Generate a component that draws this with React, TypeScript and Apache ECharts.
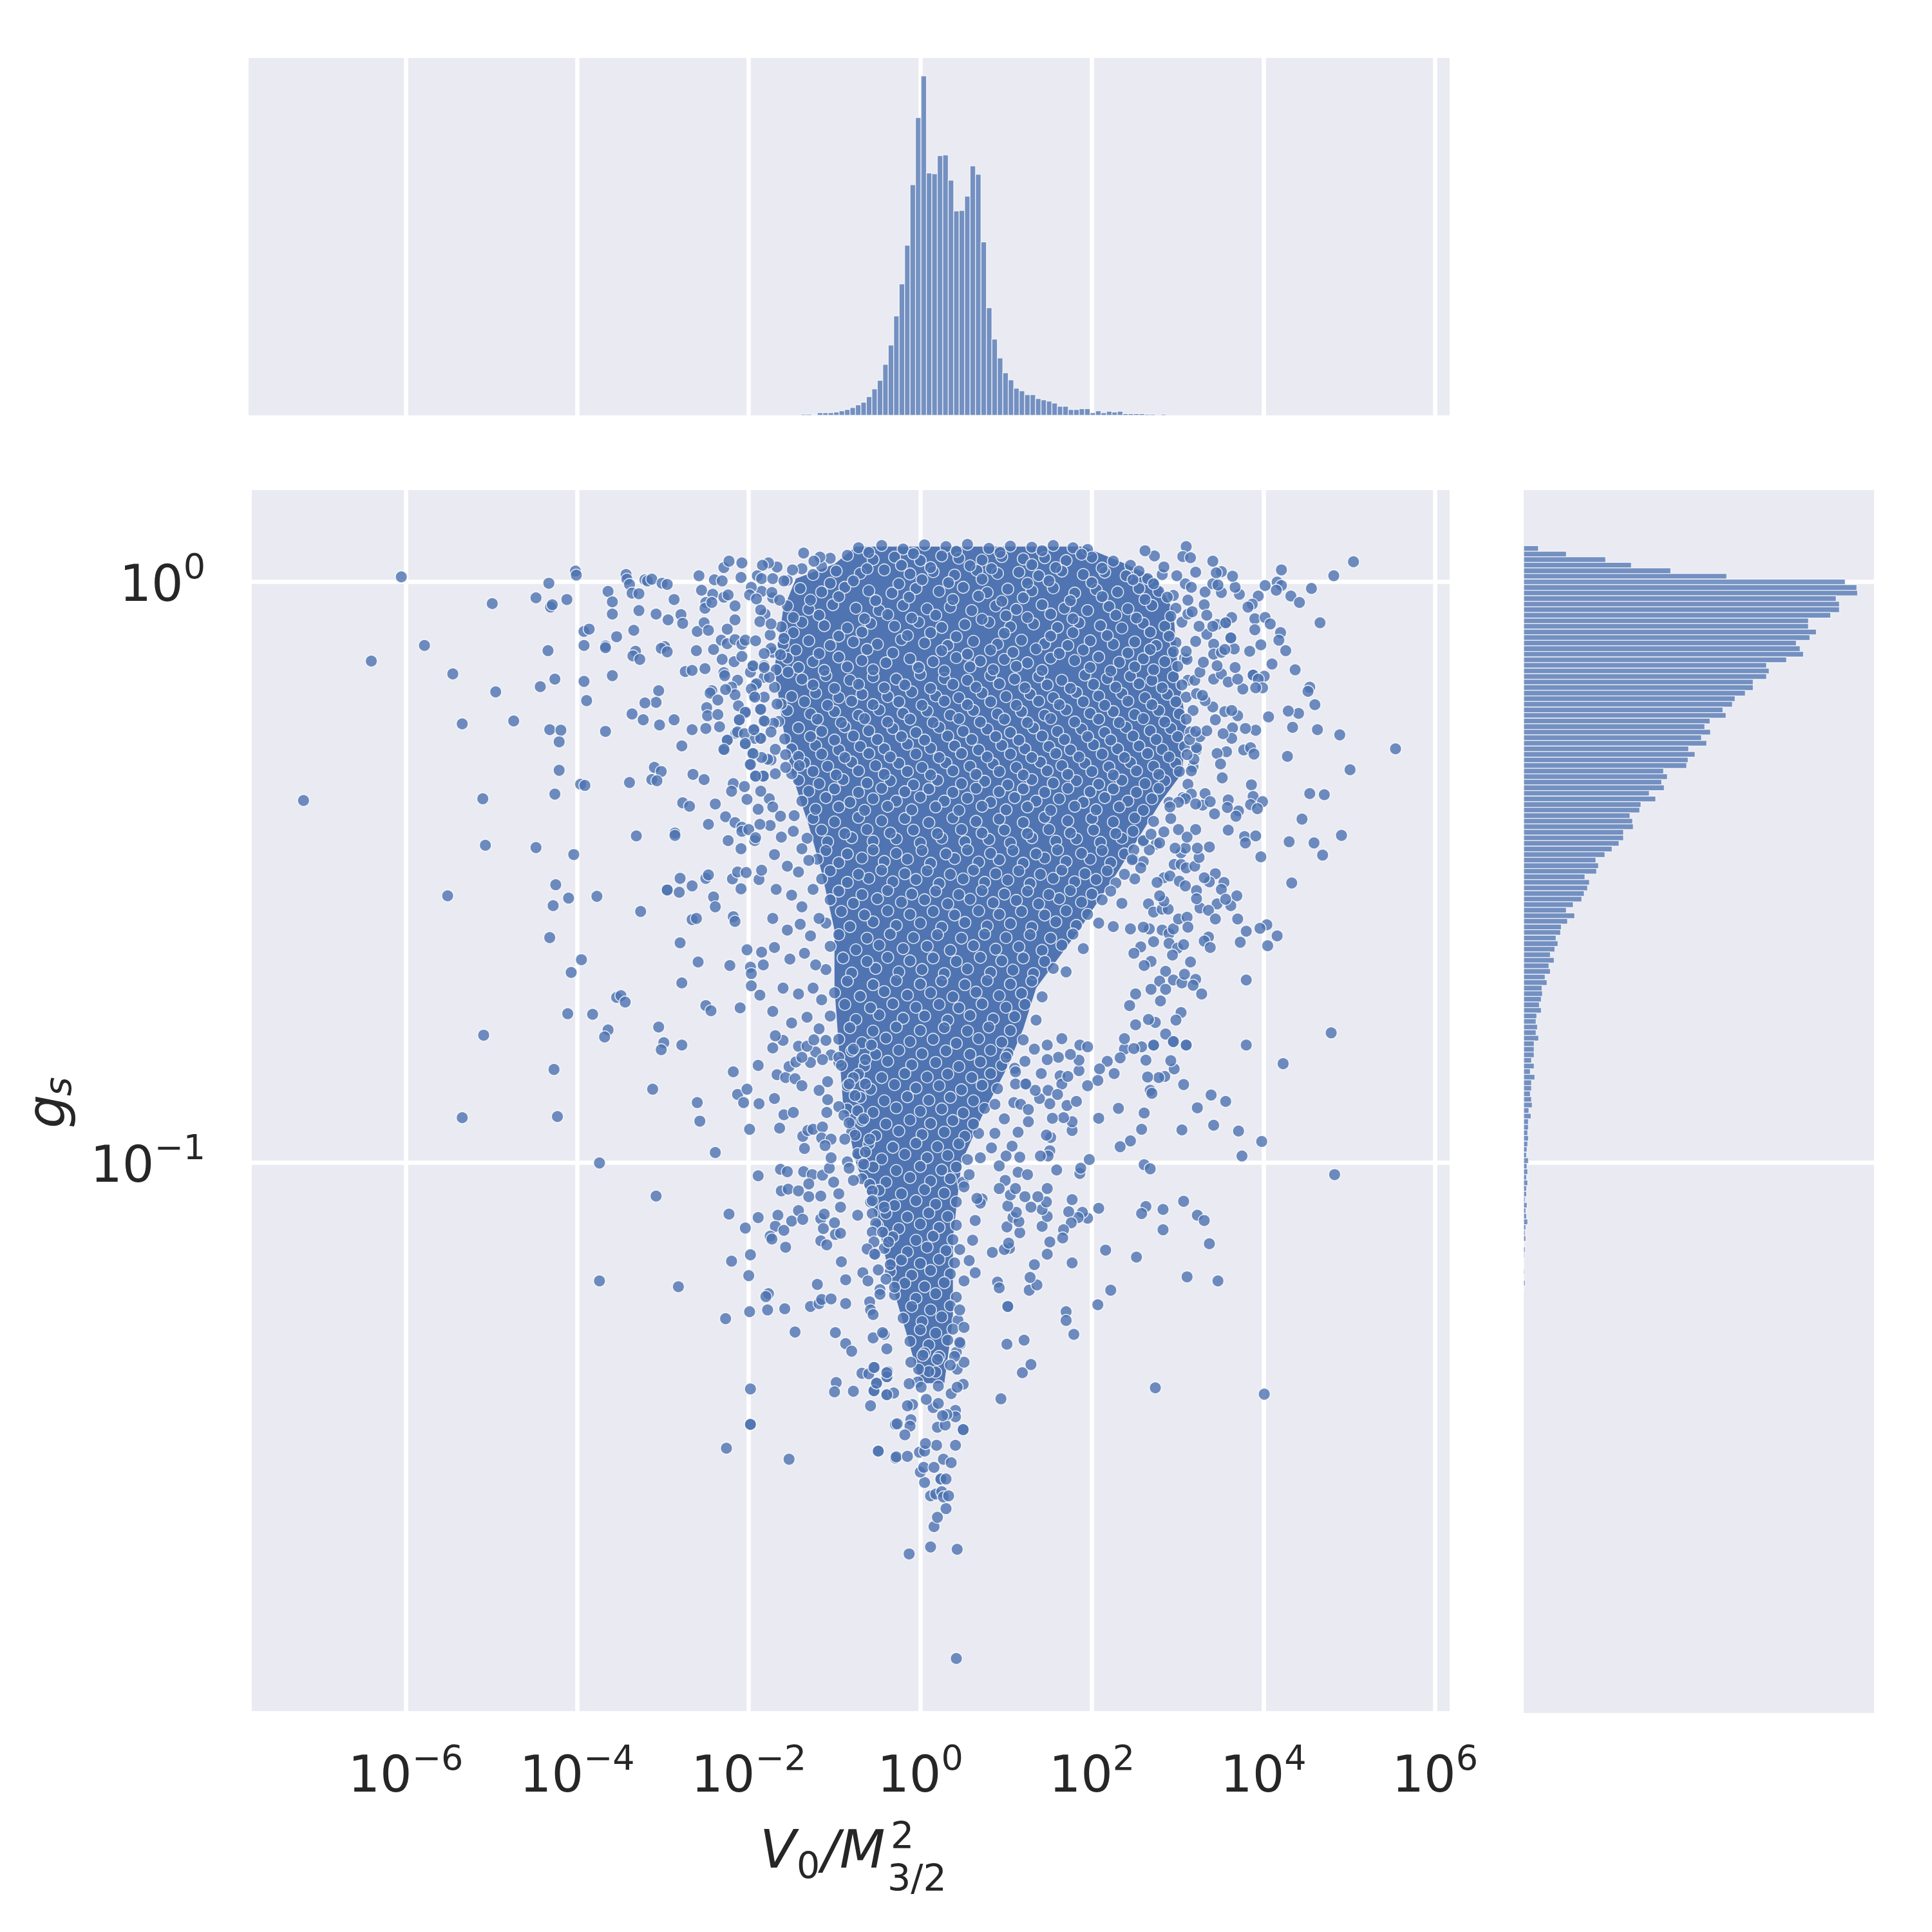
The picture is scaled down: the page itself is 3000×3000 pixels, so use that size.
import React, { useEffect, useRef } from "react";
import * as echarts from "echarts";

const FONT = "DejaVu Sans";
const INK = "#262626";
const BLUE = "#4c72b0";
const PANEL = "#eaeaf2";

const xTicks = [-6, -4, -2, 0, 2, 4, 6];
const yTicks = [0, -1];

// Top histogram: counts per bin of log10(V0/M^2)
const topBinStart = -1.391;
const topBinWidth = 0.0636;
const topCounts = [5,5,2,11,11,11,14,19,25,33,44,55,79,111,147,214,295,417,552,714,968,1250,1425,1017,1014,1090,1093,987,858,860,920,1047,1012,728,452,320,241,179,149,114,103,87,87,71,65,60,52,38,38,25,25,28,28,11,19,11,17,14,17,7,7,7,7,5,5,2,5,2];

// Right histogram: counts per bin of log10(g_s), top bin first
const rightBinTop = 0.0616;
const rightBinHeight = 0.00958;
const rightCounts = [62,179,344,452,617,852,1349,1398,1401,1311,1325,1325,1288,1195,1195,1228,1201,1144,1160,1174,1103,1019,1030,1019,963,963,930,887,876,836,849,782,760,784,746,768,692,719,690,684,587,603,579,590,527,554,492,487,446,457,460,419,419,400,371,341,303,314,306,257,276,268,254,244,208,179,214,184,158,155,136,144,131,112,128,106,112,90,98,77,79,74,66,74,55,52,58,52,63,44,44,44,33,44,28,47,33,33,28,33,36,22,31,20,20,17,20,17,14,12,20,14,17,12,17,12,12,6,14,9,12,17,9,6,9,1,6,4,0,0,4,1,6,1];

// Outline of the saturated core of the cloud: log10(g_s), left and right log10(V0/M^2)
const coreLeftG = [0.06,0.03,0.005,-0.05,-0.15,-0.25,-0.33,-0.42,-0.5,-0.6,-0.7,-0.8,-0.9,-1.0,-1.1,-1.2,-1.3,-1.38];
const coreLeftV = [-0.75,-1.0,-1.45,-1.6,-1.7,-1.6,-1.5,-1.3,-1.15,-1.0,-1.0,-0.95,-0.9,-0.75,-0.5,-0.35,-0.15,0.0];
const coreRightG = [0.06,0.03,0.005,-0.05,-0.15,-0.25,-0.33,-0.38,-0.44,-0.5,-0.6,-0.7,-0.77,-0.84,-0.92,-1.0,-1.13,-1.27,-1.38];
const coreRightV = [1.9,2.4,2.75,2.95,3.0,3.1,3.05,2.8,2.55,2.3,1.85,1.35,1.2,1.0,0.72,0.48,0.38,0.38,0.28];

// Separately readable points, flat [log10 V, log10 g] pairs
const wingsLeftUpper = [-6.05,0.008,-4.99,-0.038,-4.33,-0.003,-4.48,-0.028,-4.12,-0.031,-4.31,-0.044,-4.29,-0.04,-4.02,0.018,-4.01,0.011,-5.78,-0.11,-6.4,-0.137,-5.45,-0.159,-4.95,-0.19,-5.34,-0.245,-4.74,-0.24,-4.34,-0.119,-4.26,-0.168,-4.43,-0.181,-3.92,-0.11,-3.92,-0.172,-3.89,-0.205,-3.92,-0.086,-3.86,-0.082,-3.67,-0.111,-3.67,-0.114,-3.54,-0.095,-3.59,-0.162,-3.64,-0.017,-3.59,-0.035,-3.59,-0.056,-3.43,0.012,-3.42,0.004,-3.39,-0.005,-3.36,-0.02,-3.28,-0.021,-3.28,-0.05,-3.34,-0.084,-3.32,-0.12,-3.35,-0.128,-3.27,-0.134,-3.21,0.003,-3.18,0.001,-3.13,0.004,-3.01,-0.003,-2.95,-0.005,-3.08,-0.056,-2.94,-0.066,-2.87,-0.031,-2.79,-0.057,-2.77,-0.072,-2.98,-0.112,-3.02,-0.115,-2.95,-0.121,-2.61,-0.119,-2.6,-0.086,-2.52,-0.071,-2.47,-0.084,-2.58,0.01,-2.55,-0.015,-2.4,0.003,-2.31,0.001,-2.42,-0.022,-2.29,0.024,-2.23,0.035,-2.08,0.032,-2.09,0.007,-2.5,-0.036,-2.51,-0.046,-2.43,-0.036,-2.29,-0.027,-2.24,-0.023,-2.16,-0.042,-2.16,-0.066,-2.25,-0.082,-2.32,-0.101,-2.25,-0.107,-2.16,-0.1,-2.08,-0.108,-2.04,-0.101,-1.92,-0.102,-2.41,-0.117,-2.31,-0.134,-2.17,-0.138,-2.08,-0.129,-2.74,-0.155,-2.66,-0.153,-2.51,-0.15,-2.29,-0.157,-2.28,-0.162,-2.13,-0.17,-2.2,-0.182,-2.43,-0.188,-2.45,-0.192,-2.36,-0.204,-2.16,-0.195,-2.27,-0.186,-3.05,-0.188,-3.08,-0.208,-3.21,-0.209,-3.36,-0.228,-3.23,-0.238,-3.04,-0.247,-2.87,-0.238,-2.66,-0.255,-2.5,-0.253,-2.34,-0.25,-2.49,-0.217,-2.48,-0.231,-2.36,-0.229,-2.12,-0.214,-2.04,-0.225,-2.11,-0.238,-2.13,-0.259,-2.05,-0.262,-1.94,-0.255,-2.25,-0.273,-2.29,-0.289,-2.04,-0.279,-1.95,-0.296,-1.98,-0.315,-1.92,-0.335,-4.32,-0.255,-4.19,-0.256,-4.21,-0.276,-4.21,-0.325,-4.26,-0.366,-3.67,-0.258,-2.78,-0.283,-3.1,-0.32,-3.02,-0.327,-3.13,-0.341,-3.07,-0.343,-3.96,-0.349,-3.91,-0.351,-3.39,-0.346,-2.65,-0.332,-2.52,-0.341,-7.19,-0.377,-5.1,-0.374,-5.07,-0.454,-4.48,-0.458,-4.04,-0.47,-3.31,-0.438,-2.86,-0.433,-2.86,-0.437,-2.77,-0.381,-2.69,-0.387,-2.39,-0.383,-2.47,-0.418,-2.27,-0.405,-2.16,-0.415,-2.08,-0.423,-2.08,-0.43,-2.0,-0.427,-1.87,-0.418,-1.89,-0.392,-2.18,-0.348,-2.2,-0.361,-2.05,-0.353,-2.02,-0.375,-1.86,-0.361,-2.24,-0.446,-2.09,-0.46,-1.93,-0.446,-1.92,-0.441,-2.8,-0.511,-2.66,-0.524,-2.5,-0.511,-2.47,-0.505,-2.19,-0.512,-2.13,-0.5,-2.03,-0.501,-2.09,-0.529,-1.88,-0.513,-1.85,-0.497,-4.25,-0.522,-4.1,-0.545,-3.77,-0.542,-4.28,-0.558,-5.51,-0.541,-3.26,-0.568,-2.95,-0.531,-2.95,-0.531,-2.81,-0.535,-2.41,-0.543,-2.39,-0.56,-2.66,-0.582,-2.61,-0.58,-2.18,-0.577,-2.16,-0.585,-4.32,-0.613,-2.8,-0.622,-3.95,-0.651,-4.07,-0.673,-2.78,-0.691,-2.59,-0.655,-2.22,-0.661,-2.02,-0.634,-1.85,-0.638,-1.98,-0.664,-1.97,-0.675,-1.83,-0.66,-1.97,-0.696,-1.87,-0.712,-3.54,-0.716,-3.49,-0.713,-3.44,-0.724,-4.11,-0.744,-3.82,-0.745,-3.64,-0.772,-3.68,-0.784,-5.09,-0.781,-2.5,-0.73,-2.44,-0.739,-2.1,-0.734,-3.05,-0.767,-2.99,-0.794,-3.02,-0.806,-2.78,-0.798];

const wingsLeftLower = [-4.27,-0.84,-3.12,-0.874,-5.34,-0.923,-4.23,-0.921,-2.6,-0.897,-2.57,-0.929,-2.18,-0.844,-2.13,-0.883,-2.02,-0.874,-2.06,-0.897,-1.88,-0.899,-1.89,-0.833,-1.99,-0.943,-2.39,-0.983,-1.67,-0.849,-1.57,-0.854,-1.53,-0.835,-1.46,-0.856,-1.38,-0.868,-1.45,-0.827,-1.28,-0.828,-1.7,-0.89,-1.59,-0.918,-1.48,-0.914,-1.64,-0.941,-1.72,-0.803,-1.69,-0.782,-1.38,-0.819,-1.32,-0.8,-1.24,-0.789,-1.18,-0.876,-1.08,-0.861,-1.08,-0.892,-1.09,-0.914,-1.37,-0.955,-1.31,-0.945,-1.25,-0.943,-1.14,-0.939,-1.15,-0.958,-1.04,-0.96,-0.88,-0.96,-1.11,-0.971,-1.35,-0.976,-3.74,-1.001,-3.08,-1.058,-1.89,-1.023,-1.63,-1.012,-1.55,-1.016,-1.36,-1.016,-1.26,-1.021,-1.14,-1.022,-1.06,-1.01,-1.04,-0.992,-1.62,-1.049,-1.54,-1.046,-1.42,-1.049,-1.3,-1.037,-1.3,-1.059,-1.16,-1.058,-1.01,-1.034,-0.95,-1.054,-0.93,-1.077,-2.23,-1.089,-1.89,-1.095,-2.04,-1.113,-1.66,-1.091,-1.42,-1.083,-1.5,-1.101,-1.37,-1.098,-1.16,-1.097,-1.12,-1.089,-1.0,-1.104,-0.73,-1.091,-1.13,-1.114,-1.69,-1.11,-1.59,-1.117,-1.75,-1.127,-1.73,-1.132,-1.57,-1.146,-1.16,-1.135,-1.09,-1.142,-0.99,-1.124,-0.93,-1.122,-1.98,-1.159,-2.2,-1.17,-2.0,-1.195,-0.92,-1.171,-0.62,-1.149,-0.53,-1.158,-0.67,-1.19,-0.49,-1.185,-0.87,-1.202,-0.61,-1.204,-1.2,-1.21,-3.74,-1.204,-2.82,-1.214,-1.77,-1.226,-1.8,-1.231,-2.27,-1.269,-1.99,-1.257,-1.78,-1.254,-1.58,-1.252,-1.28,-1.248,-1.18,-1.243,-1.15,-1.236,-1.04,-1.235,-0.87,-1.243,-0.59,-1.24,-0.58,-1.254,-0.55,-1.262,-0.47,-1.227,-0.4,-1.201,-1.46,-1.292,-0.99,-1.293,-0.87,-1.312,-0.8,-1.325,-0.55,-1.302,-0.42,-1.296,-0.44,-1.293,-0.39,-1.321,-1.98,-1.39,-0.98,-1.379,-1.0,-1.395,-0.78,-1.394,-0.68,-1.363,-0.6,-1.364,-0.53,-1.353,-0.51,-1.381,-0.54,-1.393,-0.58,-1.419,-0.39,-1.399,-0.38,-1.36,-0.38,-1.369,-1.98,-1.451,-1.98,-1.451,-2.26,-1.492,-1.53,-1.511,-0.49,-1.497,-0.49,-1.497,-0.29,-1.451,-0.29,-1.509];

const tailBottom = [0.42,-1.854,-0.13,-1.674,0.12,-1.662,0.43,-1.666,0.16,-1.627,0.2,-1.611,0.3,-1.596,0.12,-1.574,0.18,-1.571,0.25,-1.567,0.27,-1.576,0.33,-1.574,0.05,-1.551,0.24,-1.545,0.24,-1.545,0.3,-1.545,0.0,-1.533,0.04,-1.525,0.16,-1.525,0.27,-1.511,0.36,-1.517,-0.01,-1.499,0.05,-1.497,0.19,-1.487,0.06,-1.484,0.41,-1.487,-0.28,-1.507,-0.15,-1.506,0.5,-1.46,0.5,-1.46,0.2,-1.456,0.29,-1.452,0.41,-1.427,0.41,-1.438,0.31,-1.434,0.26,-1.436,0.15,-1.422,0.21,-1.415,0.07,-1.408,-0.27,-1.45,-0.11,-1.443,-0.12,-1.454,-0.18,-1.469,-0.09,-1.417,-0.15,-1.419,0.36,-1.398,0.5,-1.382,0.43,-1.387,0.21,-1.385,-0.03,-1.378,0.01,-1.387,0.43,-1.356,0.51,-1.344,0.4,-1.334,0.35,-1.349,0.2,-1.339,0.18,-1.361,0.1,-1.36,-0.02,-1.356,-0.11,-1.344,0.03,-1.332,-0.31,-1.397,-0.39,-1.4,-0.54,-1.393,-0.51,-1.38,-0.39,-1.369,-0.39,-1.362,-0.54,-1.353,-0.13,-1.381];

const wingsRightLower = [0.94,-1.407,2.74,-1.388,4.01,-1.399,1.01,-1.313,1.21,-1.306,1.19,-1.362,1.29,-1.348,1.02,-1.248,1.02,-1.248,0.9,-1.206,0.92,-1.216,1.7,-1.257,1.7,-1.272,1.79,-1.296,2.07,-1.245,2.22,-1.22,1.27,-1.22,1.36,-1.211,1.28,-1.198,1.33,-1.176,1.77,-1.173,1.48,-1.158,0.84,-1.155,1.51,-1.137,1.04,-1.148,0.98,-1.15,1.03,-1.139,2.52,-1.163,2.16,-1.151,3.11,-1.197,3.47,-1.204,3.37,-1.14,2.83,-1.116,2.83,-1.081,3.07,-1.067,2.63,-1.076,2.58,-1.088,3.23,-1.091,3.31,-1.1,2.08,-1.079,1.95,-1.096,1.89,-1.086,1.84,-1.095,1.73,-1.085,1.77,-1.064,1.76,-1.104,1.67,-1.116,1.66,-1.13,1.42,-1.11,0.64,-1.1,1.01,-1.111,1.08,-1.095,1.16,-1.121,1.15,-1.102,1.12,-1.086,1.02,-1.075,1.48,-1.093,1.42,-1.081,1.29,-1.077,1.47,-1.068,1.37,-1.059,1.22,-1.059,1.05,-1.056,1.48,-1.045,0.7,-1.07,0.66,-1.062,1.11,-1.045,0.99,-1.031,0.92,-1.045,1.14,-1.017,1.25,-1.021,1.59,-1.013,1.86,-1.019,1.87,-1.01,1.97,-0.995,2.61,-1.004,2.68,-1.011,4.83,-1.021,3.75,-0.989,3.98,-0.964,3.71,-0.946,3.42,-0.936,3.05,-0.944,3.56,-0.895,3.39,-0.884,3.23,-0.906,2.58,-0.943,2.45,-0.963,2.33,-0.973,2.61,-0.915,2.31,-0.907,2.08,-0.924,3.07,-0.866,4.23,-0.83,3.8,-0.798,4.79,-0.777,2.68,-0.876,2.7,-0.881,2.85,-0.852,2.78,-0.854,2.65,-0.853,2.96,-0.839,2.92,-0.825,3.1,-0.798,2.95,-0.792,2.72,-0.799,2.63,-0.824,2.38,-0.805,2.38,-0.787,2.58,-0.801,2.49,-0.804,2.26,-0.847,2.18,-0.826,2.33,-0.82,2.09,-0.839,2.07,-0.859,1.95,-0.868,1.85,-0.842,1.85,-0.824,1.75,-0.814,1.72,-0.852,1.51,-0.899,1.71,-0.902,1.82,-0.895,1.77,-0.945,1.77,-0.93,1.67,-0.923,1.54,-0.924,1.26,-0.909,1.39,-0.89,1.49,-0.876,1.6,-0.883,1.34,-0.876,1.23,-0.865,1.52,-0.957,1.47,-0.953,1.51,-0.98,1.49,-0.989,1.4,-0.989,1.16,-0.991,1.14,-0.948,1.26,-0.93,1.07,-0.972,1.0,-0.989];

const wingsRightUpper = [5.05,0.034,4.82,0.01,4.21,0.02,4.56,-0.012,4.66,-0.071,4.32,-0.025,4.42,-0.036,4.16,-0.001,4.21,-0.007,4.15,-0.015,4.02,-0.007,3.94,-0.025,3.87,-0.039,3.82,-0.044,3.72,-0.022,3.67,-0.01,3.64,0.009,3.51,0.017,3.45,0.015,3.41,0.035,3.1,0.06,3.06,0.043,3.15,0.041,2.73,0.044,2.62,0.053,3.51,-0.019,3.47,-0.006,3.9,-0.064,4.02,-0.062,4.08,-0.073,3.9,-0.083,3.63,-0.062,3.56,-0.071,4.2,-0.088,4.18,-0.101,4.26,-0.119,3.97,-0.109,3.84,-0.12,3.66,-0.116,3.62,-0.097,3.55,-0.117,4.1,-0.142,4.37,-0.152,4.01,-0.163,3.88,-0.161,3.88,-0.161,3.94,-0.168,3.99,-0.183,3.91,-0.183,3.76,-0.185,3.7,-0.168,3.67,-0.148,4.54,-0.182,4.52,-0.189,4.6,-0.212,4.41,-0.227,4.29,-0.223,4.06,-0.233,4.34,-0.251,4.63,-0.255,4.89,-0.264,5.54,-0.288,5.01,-0.324,4.28,-0.301,4.54,-0.365,4.71,-0.367,4.45,-0.409,4.91,-0.437,4.59,-0.45,4.3,-0.448,4.69,-0.471,4.33,-0.519,3.91,-0.256,3.79,-0.253,3.7,-0.231,3.63,-0.222,3.64,-0.252,3.63,-0.27,3.53,-0.262,3.77,-0.29,3.85,-0.286,3.89,-0.297,3.57,-0.293,3.46,-0.296,3.5,-0.314,3.52,-0.338,3.86,-0.35,3.88,-0.37,3.99,-0.379,3.85,-0.384,3.93,-0.391,3.71,-0.395,3.68,-0.404,3.59,-0.376,3.58,-0.389,3.43,-0.4,3.32,-0.365,3.21,-0.383,3.38,-0.379,3.59,-0.428,3.78,-0.439,3.79,-0.45,3.91,-0.438,3.97,-0.474,3.37,-0.457,3.25,-0.475,3.21,-0.427,3.11,-0.44,3.23,-0.459,3.54,-0.518,3.44,-0.503,3.37,-0.517,3.31,-0.51,3.51,-0.53,3.69,-0.541,3.62,-0.558,3.46,-0.555,3.56,-0.547,3.26,-0.562,3.36,-0.566,3.44,-0.581,3.7,-0.581,3.22,-0.532,3.22,-0.546,4.04,-0.591,3.96,-0.597,4.16,-0.61,4.05,-0.627,3.8,-0.602,3.73,-0.621,3.36,-0.612,3.31,-0.619,3.38,-0.63,3.8,-0.686,3.15,-0.655,3.28,-0.71,3.21,-0.685,3.05,-0.691,3.08,-0.676,3.18,-0.695,3.1,-0.798,3.04,-0.742,2.98,-0.755,2.74,-0.759,2.66,-0.754,2.86,-0.779,2.95,-0.792,2.72,-0.798];

const coreEdgeLeft = [-1.36,0.049,-1.17,0.042,-1.24,0.035,-1.38,0.022,-1.49,0.02,-1.67,0.025,-1.77,0.032,-1.84,0.028,-1.9,0.01,-1.85,0.005,-1.72,0.005,-1.59,0.001,-1.85,-0.017,-1.97,-0.01,-1.73,-0.019,-1.99,-0.023,-1.91,-0.03,-1.64,-0.032,-1.81,-0.056,-1.86,-0.049,-1.87,-0.069,-1.74,-0.073,-1.59,-0.098,-1.74,-0.115,-1.82,-0.124,-1.96,-0.147,-1.98,-0.156,-1.82,-0.145,-1.63,-0.126,-1.54,-0.156,-1.92,-0.178,-1.94,-0.196,-1.82,-0.165,-1.76,-0.165,-1.67,-0.211,-1.87,-0.22,-2.04,-0.226,-2.11,-0.239,-1.81,-0.241,-1.71,-0.244,-1.94,-0.256,-1.74,-0.259,-2.15,-0.261,-1.87,-0.27,-2.04,-0.28,-2.25,-0.274,-2.28,-0.29,-1.96,-0.296,-1.99,-0.315,-1.74,-0.307,-1.69,-0.289,-1.57,-0.298,-1.57,-0.32,-1.69,-0.331,-1.83,-0.335,-1.92,-0.335,-1.41,-0.317,-1.76,-0.374,-1.72,-0.388,-1.63,-0.404,-1.47,-0.403,
-1.95,-0.145,-1.82,-0.148,-1.91,-0.176,-1.97,-0.185,-1.82,-0.199,-1.93,-0.199,-1.86,-0.22,-1.82,-0.24,-1.93,-0.27,-1.86,-0.27,-1.78,-0.306,-1.83,-0.335,-1.85,-0.303,
-1.75,-0.42,-1.62,-0.44,-1.48,-0.43,-1.38,-0.46,-1.7,-0.47,-1.55,-0.49,-1.42,-0.5,-1.3,-0.48,-1.68,-0.53,-1.5,-0.54,-1.38,-0.56,-1.25,-0.53,-1.72,-0.58,-1.55,-0.6,-1.4,-0.59,-1.28,-0.61,-1.18,-0.58,-1.7,-0.63,-1.52,-0.65,-1.35,-0.64,-1.22,-0.66,-1.6,-0.7,-1.42,-0.71,-1.25,-0.7,-1.15,-0.72,-1.72,-0.74,-1.5,-0.76,-1.32,-0.75,-1.18,-0.77,-1.6,-0.79,-1.42,-0.8,-1.22,-0.81,-1.1,-0.79,
-1.04,-0.815,-1.14,-0.823,-0.95,-0.819,-0.78,-0.805,-0.64,-0.823,-0.57,-0.798,-0.92,-0.833,-0.78,-0.854,-0.64,-0.865,-0.83,-0.865,-0.76,-0.885,-0.95,-0.904,-0.89,-0.919,-0.73,-0.911,-0.83,-0.932,-0.66,-0.925,-0.76,-0.953,-0.59,-0.96,-0.85,-0.999,-0.73,-0.985,-0.64,-0.982,-0.83,-1.01,-0.66,-1.003,-0.78,-1.031,-0.59,-1.038,-0.56,-1.049,-0.56,-1.066,-0.56,-1.088,-0.42,-1.077,-0.52,-1.105,-0.56,-1.12,-0.44,-1.12,-0.54,-1.137,-0.37,-1.137,-0.54,-1.158,-0.35,-1.176,-0.47,-1.219,-0.3,-1.215];

const coreEdgeRight = [2.66,-0.555,2.72,-0.569,2.82,-0.564,2.89,-0.564,2.84,-0.55,2.79,-0.541,2.84,-0.51,2.91,-0.507,3.02,-0.516,3.09,-0.524,2.76,-0.518,2.67,-0.598,2.82,-0.6,2.9,-0.606,2.95,-0.598,3.01,-0.581,3.11,-0.578,3.12,-0.595,2.6,-0.595,2.45,-0.598,2.72,-0.62,2.9,-0.623,3.0,-0.631,3.07,-0.625,2.57,-0.629,2.49,-0.64,2.94,-0.643,2.69,-0.654,2.61,-0.661,2.86,-0.671,2.79,-0.688,2.95,-0.686,2.86,-0.702,2.69,-0.702,2.51,-0.71,2.8,-0.722,2.44,-0.73,2.51,-0.763,
2.96,-0.487,3.04,-0.487,3.1,-0.493,3.2,-0.49,3.04,-0.467,3.09,-0.459,2.97,-0.459,2.79,-0.45,2.67,-0.462,2.6,-0.446,2.69,-0.435,2.84,-0.431,3.01,-0.427,2.57,-0.493,2.49,-0.462,2.47,-0.479,
3.16,-0.366,3.09,-0.374,3.01,-0.38,2.91,-0.388,3.29,-0.385,3.16,-0.326,3.19,-0.306,3.11,-0.298,3.22,-0.286,3.26,-0.267,3.14,-0.272,3.34,-0.257,3.21,-0.258,3.44,-0.238,3.55,-0.224,3.41,-0.216,3.32,-0.205,3.22,-0.193,3.29,-0.196,3.2,-0.17,3.26,-0.156,3.3,-0.139,3.42,-0.168,3.51,-0.159,3.59,-0.173,3.46,-0.145,
3.11,-0.134,3.1,-0.12,3.21,-0.103,3.34,-0.091,3.25,-0.077,3.17,-0.052,3.31,-0.04,3.12,-0.032,3.09,-0.004,3.16,-0.01,3.32,-0.018,3.41,-0.004,3.21,0.016,2.99,0.01,2.84,0.025,3.42,-0.108,3.42,-0.125,3.56,-0.072,3.46,-0.074,3.62,-0.097,3.51,-0.122,3.41,-0.077,3.34,-0.058,
0.87,-0.95,0.83,-0.975,0.7,-0.992,0.57,-1.021,0.92,-1.006,0.51,-1.042,0.72,-1.063,0.61,-1.134,0.57,-1.169,0.64,-1.19,0.51,-1.204,0.46,-1.254,0.51,-1.284,0.46,-1.31,0.98,-0.925,0.87,-0.9,1.09,-0.897,1.17,-0.9,1.11,-0.844,1.22,-0.865,1.0,-0.819,1.22,-0.826,1.33,-0.805,1.48,-0.798,1.65,-0.787,1.86,-0.798,1.95,-0.801,1.61,-0.819,1.48,-0.823,1.41,-0.847,1.63,-0.851,1.65,-0.865,1.11,-0.865];

// Hand-placed estimates inside the saturated core, where separate points cannot be read
const coreInterior = [-0.72,0.058,-0.45,0.062,-0.2,0.056,0.05,0.063,0.3,0.06,0.55,0.064,0.8,0.057,1.05,0.061,1.3,0.059,1.55,0.062,1.78,0.058,1.95,0.055,
-1.05,0.04,-0.85,0.045,-0.55,0.038,-0.3,0.042,0.0,0.036,0.25,0.044,0.45,0.04,0.72,0.037,0.95,0.043,1.2,0.039,1.45,0.041,1.7,0.036,2.0,0.042,2.25,0.035,2.45,0.028,
-1.25,0.012,-0.98,0.018,-0.7,0.014,-0.42,0.02,-0.12,0.013,0.15,0.017,0.4,0.011,0.66,0.019,0.9,0.014,1.15,0.016,1.38,0.01,1.65,0.018,1.9,0.012,2.15,0.016,2.4,0.01,2.65,0.005,2.82,0.012,
-1.4,-0.012,-1.15,-0.018,-0.88,-0.01,-0.6,-0.016,-0.33,-0.02,-0.05,-0.012,0.22,-0.017,0.5,-0.01,0.78,-0.019,1.02,-0.013,1.3,-0.016,1.55,-0.011,1.8,-0.02,2.05,-0.014,2.3,-0.018,2.55,-0.012,2.78,-0.017,2.95,-0.024,
-1.55,-0.042,-1.3,-0.048,-1.02,-0.04,-0.75,-0.046,-0.48,-0.05,-0.2,-0.041,0.08,-0.047,0.35,-0.044,0.6,-0.05,0.88,-0.042,1.12,-0.048,1.42,-0.04,1.68,-0.046,1.95,-0.05,2.2,-0.043,2.42,-0.047,2.7,-0.041,2.98,-0.046,
-1.62,-0.078,-1.38,-0.07,-1.12,-0.076,-0.85,-0.08,-0.58,-0.072,-0.3,-0.077,-0.02,-0.07,0.25,-0.079,0.52,-0.074,0.8,-0.07,1.05,-0.078,1.32,-0.073,1.6,-0.079,1.85,-0.071,2.1,-0.076,2.35,-0.08,2.6,-0.072,2.85,-0.077,3.05,-0.07,
-1.6,-0.108,-1.3,-0.102,-1.05,-0.11,-0.78,-0.104,-0.5,-0.108,-0.22,-0.1,0.05,-0.106,0.32,-0.11,0.62,-0.103,0.9,-0.108,1.18,-0.101,1.45,-0.107,1.72,-0.11,1.98,-0.102,2.25,-0.108,2.5,-0.104,2.75,-0.11,2.98,-0.105,
-1.55,-0.132,-1.25,-0.138,-0.95,-0.13,-0.68,-0.136,-0.4,-0.14,-0.12,-0.133,0.15,-0.138,0.42,-0.131,0.7,-0.137,0.98,-0.134,1.25,-0.14,1.52,-0.132,1.8,-0.136,2.08,-0.13,2.32,-0.139,2.6,-0.133,2.85,-0.138,3.08,-0.132,
-1.38,-0.168,-1.1,-0.162,-0.82,-0.17,-0.55,-0.164,-0.28,-0.168,0.0,-0.16,0.28,-0.167,0.55,-0.17,0.82,-0.162,1.1,-0.168,1.38,-0.164,1.65,-0.17,1.92,-0.161,2.18,-0.167,2.45,-0.163,2.7,-0.17,2.95,-0.164,3.12,-0.17,
-1.5,-0.198,-1.22,-0.192,-0.95,-0.2,-0.68,-0.194,-0.38,-0.198,-0.1,-0.19,0.18,-0.197,0.45,-0.2,0.72,-0.192,1.0,-0.198,1.28,-0.194,1.55,-0.2,1.82,-0.191,2.08,-0.197,2.35,-0.193,2.62,-0.2,2.88,-0.194,3.1,-0.199,
-1.55,-0.222,-1.28,-0.228,-1.0,-0.224,-0.72,-0.23,-0.48,-0.221,-0.2,-0.227,0.08,-0.223,0.35,-0.23,0.62,-0.222,0.9,-0.228,1.18,-0.224,1.45,-0.23,1.7,-0.221,1.98,-0.227,2.25,-0.224,2.5,-0.229,2.78,-0.222,3.02,-0.228,3.18,-0.222,
-1.42,-0.252,-1.15,-0.258,-0.88,-0.25,-0.6,-0.257,-0.32,-0.253,-0.05,-0.26,0.22,-0.251,0.5,-0.258,0.78,-0.254,1.05,-0.26,1.32,-0.252,1.6,-0.258,1.88,-0.254,2.15,-0.26,2.4,-0.251,2.68,-0.257,2.92,-0.253,3.15,-0.259,
-1.5,-0.288,-1.22,-0.282,-0.95,-0.29,-0.7,-0.284,-0.42,-0.288,-0.15,-0.28,0.12,-0.287,0.4,-0.283,0.68,-0.29,0.95,-0.282,1.22,-0.288,1.5,-0.284,1.75,-0.29,2.02,-0.281,2.3,-0.288,2.55,-0.283,2.82,-0.289,3.08,-0.284,3.22,-0.29,
-1.35,-0.312,-1.08,-0.318,-0.8,-0.311,-0.52,-0.317,-0.25,-0.313,0.02,-0.32,0.3,-0.312,0.58,-0.318,0.85,-0.314,1.12,-0.32,1.4,-0.311,1.65,-0.317,1.92,-0.313,2.2,-0.319,2.45,-0.312,2.72,-0.318,2.98,-0.313,3.18,-0.319,
-1.42,-0.342,-1.18,-0.348,-0.9,-0.341,-0.62,-0.347,-0.35,-0.343,-0.08,-0.35,0.2,-0.342,0.48,-0.348,0.75,-0.344,1.02,-0.35,1.3,-0.341,1.55,-0.347,1.82,-0.343,2.08,-0.349,2.35,-0.342,2.62,-0.348,2.85,-0.343,3.12,-0.349,
-1.38,-0.378,-1.1,-0.372,-0.82,-0.38,-0.55,-0.374,-0.28,-0.378,0.0,-0.371,0.28,-0.378,0.55,-0.373,0.82,-0.38,1.1,-0.372,1.35,-0.378,1.62,-0.374,1.9,-0.38,2.15,-0.372,2.42,-0.378,2.7,-0.374,2.9,-0.38,3.06,-0.372,
-1.25,-0.408,-1.0,-0.414,-0.72,-0.406,-0.45,-0.412,-0.18,-0.408,0.1,-0.415,0.38,-0.407,0.65,-0.413,0.92,-0.409,1.2,-0.415,1.45,-0.406,1.72,-0.412,2.0,-0.408,2.25,-0.414,2.5,-0.407,2.72,-0.413,2.92,-0.408,
-1.32,-0.442,-1.08,-0.448,-0.8,-0.441,-0.55,-0.447,-0.28,-0.443,0.0,-0.45,0.25,-0.442,0.52,-0.448,0.8,-0.444,1.05,-0.45,1.3,-0.441,1.58,-0.447,1.82,-0.443,2.1,-0.449,2.35,-0.442,2.6,-0.448,2.75,-0.452,
-1.2,-0.478,-0.95,-0.484,-0.68,-0.476,-0.42,-0.482,-0.15,-0.478,0.12,-0.485,0.4,-0.477,0.68,-0.483,0.92,-0.479,1.2,-0.485,1.45,-0.476,1.7,-0.482,1.98,-0.478,2.22,-0.484,2.48,-0.477,2.6,-0.482,
-1.15,-0.512,-0.85,-0.518,-0.6,-0.511,-0.32,-0.517,-0.05,-0.513,0.22,-0.52,0.5,-0.512,0.75,-0.518,1.02,-0.514,1.28,-0.52,1.55,-0.511,1.8,-0.517,2.05,-0.513,2.28,-0.519,2.5,-0.512,
-1.05,-0.548,-0.78,-0.554,-0.5,-0.546,-0.22,-0.552,0.05,-0.548,0.32,-0.555,0.58,-0.547,0.85,-0.553,1.12,-0.549,1.38,-0.555,1.62,-0.546,1.88,-0.552,2.12,-0.548,2.35,-0.554,
-1.1,-0.588,-0.82,-0.594,-0.55,-0.586,-0.28,-0.592,0.0,-0.588,0.25,-0.595,0.52,-0.587,0.78,-0.593,1.05,-0.589,1.3,-0.595,1.58,-0.586,1.82,-0.592,2.08,-0.588,2.25,-0.594,
-1.05,-0.628,-0.75,-0.634,-0.48,-0.626,-0.2,-0.632,0.08,-0.628,0.35,-0.635,0.62,-0.627,0.88,-0.633,1.15,-0.629,1.42,-0.635,1.65,-0.626,1.9,-0.632,
-1.1,-0.668,-0.8,-0.674,-0.52,-0.666,-0.25,-0.672,0.02,-0.668,0.28,-0.675,0.55,-0.667,0.82,-0.673,1.08,-0.669,1.32,-0.675,1.55,-0.666,1.7,-0.672,
-1.0,-0.708,-0.7,-0.714,-0.42,-0.706,-0.15,-0.712,0.12,-0.708,0.38,-0.715,0.65,-0.707,0.92,-0.713,1.18,-0.709,1.42,-0.715,
-1.05,-0.748,-0.75,-0.754,-0.48,-0.746,-0.2,-0.752,0.05,-0.748,0.32,-0.755,0.58,-0.747,0.85,-0.753,1.1,-0.749,1.35,-0.755,
-0.95,-0.788,-0.68,-0.794,-0.4,-0.786,-0.12,-0.792,0.15,-0.788,0.42,-0.795,0.68,-0.787,0.95,-0.793,1.2,-0.789,
-0.95,-0.828,-0.65,-0.834,-0.38,-0.826,-0.1,-0.832,0.18,-0.828,0.45,-0.835,0.7,-0.827,0.95,-0.833,1.1,-0.838,
-0.85,-0.868,-0.58,-0.874,-0.3,-0.866,-0.05,-0.872,0.22,-0.868,0.48,-0.875,0.72,-0.867,0.9,-0.873,
-0.85,-0.908,-0.55,-0.914,-0.28,-0.906,0.0,-0.912,0.25,-0.908,0.5,-0.915,0.75,-0.907,
-0.8,-0.948,-0.52,-0.954,-0.25,-0.946,0.02,-0.952,0.28,-0.948,0.52,-0.955,0.68,-0.95,
-0.72,-0.988,-0.45,-0.994,-0.18,-0.986,0.08,-0.992,0.32,-0.988,0.55,-0.995,
-0.68,-1.028,-0.4,-1.034,-0.12,-1.026,0.12,-1.032,0.35,-1.028,0.5,-1.034,
-0.58,-1.068,-0.3,-1.074,-0.05,-1.066,0.18,-1.072,0.42,-1.068,
-0.5,-1.108,-0.25,-1.114,0.0,-1.106,0.22,-1.112,0.42,-1.108,
-0.42,-1.148,-0.15,-1.154,0.08,-1.146,0.3,-1.152,0.46,-1.15,
-0.35,-1.188,-0.1,-1.194,0.12,-1.186,0.35,-1.192,
-0.3,-1.228,-0.05,-1.234,0.18,-1.226,0.42,-1.232,
-0.2,-1.268,0.02,-1.274,0.25,-1.266,0.44,-1.272,
-0.12,-1.308,0.1,-1.314,0.32,-1.306,0.47,-1.312];

const coreInteriorSecond = [-0.6,0.05,-0.08,0.048,0.42,0.052,0.93,0.05,1.42,0.053,1.88,0.047,
-1.15,0.026,-0.62,0.022,-0.22,0.028,0.12,0.024,0.58,0.027,0.83,0.022,1.3,0.029,1.58,0.024,2.12,0.023,2.55,0.018,
-1.55,0.002,-1.05,-0.003,-0.78,0.001,-0.25,-0.004,0.02,0.003,0.33,-0.002,0.72,0.004,1.25,-0.003,1.5,0.001,2.0,-0.002,2.48,0.003,2.72,-0.004,
-1.72,-0.028,-1.28,-0.032,-0.95,-0.026,-0.52,-0.033,-0.13,-0.027,0.38,-0.031,0.68,-0.025,0.95,-0.034,1.2,-0.028,1.75,-0.033,2.12,-0.026,2.62,-0.031,2.88,-0.027,
-1.48,-0.062,-1.18,-0.058,-0.65,-0.064,-0.38,-0.057,-0.1,-0.063,0.18,-0.058,0.72,-0.065,1.0,-0.059,1.25,-0.062,1.52,-0.056,1.78,-0.064,2.28,-0.058,2.52,-0.063,2.92,-0.06,3.12,-0.056,
-1.75,-0.092,-1.48,-0.088,-0.95,-0.094,-0.68,-0.087,-0.15,-0.093,0.12,-0.088,0.42,-0.095,0.98,-0.089,1.52,-0.094,1.78,-0.088,2.18,-0.093,2.68,-0.087,2.9,-0.094,
-1.72,-0.122,-1.45,-0.118,-1.18,-0.124,-0.62,-0.117,-0.32,-0.123,0.25,-0.119,0.55,-0.125,0.82,-0.118,1.08,-0.122,1.35,-0.116,1.62,-0.124,1.9,-0.118,2.42,-0.123,2.68,-0.117,2.95,-0.121,
-1.68,-0.152,-1.42,-0.148,-1.12,-0.153,-0.85,-0.147,-0.55,-0.152,-0.02,-0.148,0.28,-0.154,0.58,-0.147,0.85,-0.152,1.12,-0.146,1.42,-0.153,1.98,-0.148,2.22,-0.154,2.5,-0.147,2.72,-0.152,3.0,-0.146,
-1.7,-0.182,-1.25,-0.178,-1.0,-0.184,-0.72,-0.177,-0.42,-0.183,-0.18,-0.178,0.12,-0.184,0.38,-0.177,0.65,-0.182,0.92,-0.176,1.22,-0.183,1.48,-0.178,1.75,-0.184,2.02,-0.177,2.28,-0.182,2.55,-0.176,2.82,-0.183,3.05,-0.178,
-1.62,-0.211,-1.35,-0.207,-1.08,-0.213,-0.8,-0.206,-0.55,-0.212,-0.25,-0.207,0.02,-0.213,0.28,-0.206,0.55,-0.212,0.82,-0.207,1.12,-0.213,1.38,-0.206,1.62,-0.212,1.9,-0.207,2.15,-0.213,2.42,-0.206,2.7,-0.212,2.98,-0.207,
-1.65,-0.241,-1.2,-0.237,-0.92,-0.243,-0.65,-0.236,-0.38,-0.242,-0.12,-0.237,0.15,-0.243,0.45,-0.236,0.7,-0.242,0.98,-0.237,1.25,-0.243,1.52,-0.236,1.8,-0.242,2.08,-0.237,2.32,-0.243,2.6,-0.236,2.85,-0.242,3.1,-0.237,
-1.58,-0.271,-1.28,-0.267,-1.0,-0.273,-0.78,-0.266,-0.5,-0.272,-0.22,-0.267,0.05,-0.273,0.32,-0.266,0.6,-0.272,0.88,-0.267,1.15,-0.273,1.42,-0.266,1.68,-0.272,1.95,-0.267,2.22,-0.273,2.48,-0.266,2.75,-0.272,3.0,-0.267,
-1.42,-0.301,-1.15,-0.297,-0.88,-0.303,-0.6,-0.296,-0.35,-0.302,-0.05,-0.297,0.22,-0.303,0.48,-0.296,0.78,-0.302,1.05,-0.297,1.3,-0.303,1.58,-0.296,1.85,-0.302,2.12,-0.297,2.38,-0.303,2.65,-0.296,2.9,-0.302,
-1.5,-0.331,-1.25,-0.327,-0.98,-0.333,-0.72,-0.326,-0.42,-0.332,-0.15,-0.327,0.12,-0.333,0.38,-0.326,0.65,-0.332,0.92,-0.327,1.2,-0.333,1.48,-0.326,1.72,-0.332,2.0,-0.327,2.25,-0.333,2.52,-0.326,2.78,-0.332,3.02,-0.327,
-1.3,-0.361,-1.0,-0.357,-0.72,-0.363,-0.45,-0.356,-0.18,-0.362,0.1,-0.357,0.38,-0.363,0.65,-0.356,0.92,-0.362,1.2,-0.357,1.45,-0.363,1.72,-0.356,1.98,-0.362,2.25,-0.357,2.52,-0.363,2.78,-0.356,
-1.22,-0.392,-0.95,-0.388,-0.65,-0.394,-0.38,-0.387,-0.1,-0.393,0.18,-0.388,0.45,-0.394,0.72,-0.387,1.0,-0.393,1.25,-0.388,1.52,-0.394,1.8,-0.387,2.05,-0.393,2.32,-0.388,2.6,-0.394,
-1.15,-0.428,-0.88,-0.434,-0.62,-0.427,-0.35,-0.433,-0.08,-0.428,0.2,-0.434,0.48,-0.427,0.72,-0.433,0.98,-0.428,1.25,-0.434,1.5,-0.427,1.75,-0.433,2.02,-0.428,2.28,-0.434,2.48,-0.43,
-1.1,-0.463,-0.85,-0.469,-0.55,-0.462,-0.28,-0.468,0.02,-0.463,0.3,-0.469,0.55,-0.462,0.82,-0.468,1.08,-0.463,1.35,-0.469,1.6,-0.462,1.88,-0.468,2.12,-0.463,2.38,-0.469,
-1.05,-0.498,-0.72,-0.504,-0.45,-0.497,-0.18,-0.503,0.08,-0.498,0.35,-0.504,0.62,-0.497,0.88,-0.503,1.15,-0.498,1.4,-0.504,1.65,-0.497,1.92,-0.503,2.18,-0.498,2.38,-0.504,
-0.95,-0.533,-0.68,-0.539,-0.38,-0.532,-0.1,-0.538,0.18,-0.533,0.45,-0.539,0.72,-0.532,0.98,-0.538,1.25,-0.533,1.5,-0.539,1.75,-0.532,2.0,-0.538,2.22,-0.533,
-0.92,-0.568,-0.65,-0.574,-0.38,-0.567,-0.12,-0.573,0.15,-0.568,0.4,-0.574,0.68,-0.567,0.92,-0.573,1.18,-0.568,1.45,-0.574,1.7,-0.567,1.95,-0.573,
-0.95,-0.608,-0.62,-0.614,-0.35,-0.607,-0.08,-0.613,0.2,-0.608,0.48,-0.614,0.75,-0.607,1.0,-0.613,1.28,-0.608,1.52,-0.614,1.78,-0.607,
-0.9,-0.648,-0.62,-0.654,-0.38,-0.647,-0.12,-0.653,0.15,-0.648,0.42,-0.654,0.7,-0.647,0.95,-0.653,1.2,-0.648,1.45,-0.654,
-0.85,-0.688,-0.55,-0.694,-0.28,-0.687,0.0,-0.693,0.25,-0.688,0.52,-0.694,0.78,-0.687,1.05,-0.693,1.3,-0.688,
-0.88,-0.728,-0.58,-0.734,-0.32,-0.727,-0.05,-0.733,0.22,-0.728,0.45,-0.734,0.72,-0.727,1.0,-0.733,1.22,-0.728,
-0.82,-0.768,-0.55,-0.774,-0.28,-0.767,0.0,-0.773,0.28,-0.768,0.55,-0.774,0.8,-0.767,1.05,-0.773,
-0.8,-0.808,-0.52,-0.814,-0.25,-0.807,0.02,-0.813,0.3,-0.808,0.58,-0.814,0.82,-0.807,1.02,-0.813,
-0.72,-0.848,-0.45,-0.854,-0.18,-0.847,0.08,-0.853,0.32,-0.848,0.6,-0.854,0.82,-0.847,
-0.7,-0.888,-0.42,-0.894,-0.15,-0.887,0.1,-0.893,0.35,-0.888,0.62,-0.894,
-0.68,-0.928,-0.4,-0.934,-0.12,-0.927,0.12,-0.933,0.38,-0.928,0.62,-0.934,
-0.6,-0.968,-0.32,-0.974,-0.05,-0.967,0.2,-0.973,0.45,-0.968,
-0.55,-1.008,-0.28,-1.014,0.0,-1.007,0.25,-1.013,0.42,-1.008,
-0.48,-1.048,-0.22,-1.054,0.05,-1.047,0.28,-1.053,
-0.4,-1.088,-0.15,-1.094,0.1,-1.087,0.32,-1.093,
-0.32,-1.128,-0.05,-1.134,0.15,-1.127,0.38,-1.133,
-0.22,-1.168,0.0,-1.174,0.22,-1.167,0.4,-1.173,
-0.18,-1.208,0.05,-1.214,0.28,-1.207,
-0.1,-1.248,0.12,-1.254,0.35,-1.247,
0.0,-1.288,0.18,-1.294,0.38,-1.287,
0.05,-1.328,0.22,-1.334,0.42,-1.327];

const pairs = (flat: number[]) => {
  const out: number[][] = [];
  for (let i = 0; i + 1 < flat.length; i += 2) out.push([flat[i], flat[i + 1]]);
  return out;
};

const powerLabel = (v: number) => `{b|10}{s|${String(v).replace("-", "\u2212")}}`;
const richLabel = {
  b: { fontSize: 78, fontFamily: FONT, color: INK, verticalAlign: "bottom", lineHeight: 100, padding: [0, 0, 8, 0] },
  s: { fontSize: 54, fontFamily: FONT, color: INK, verticalAlign: "top", lineHeight: 66 },
};

const gridLine = { show: true, lineStyle: { color: "#ffffff", width: 6.6 } };

const barItem = (rectShape: any) => ({
  type: "rect",
  shape: rectShape,
  style: { fill: BLUE, opacity: 0.75, stroke: "#ffffff", lineWidth: 1.3 },
});

export default function App() {
  const ref = useRef<HTMLDivElement>(null);
  useEffect(() => {
    if (!ref.current) return;
    const chart = echarts.init(ref.current, undefined, { renderer: "svg" });
    const text = (t: string, x: number, y: number, size: number, italic = true, rotation = 0) => ({
      type: "text",
      x,
      y,
      rotation,
      style: { text: t, fontSize: size, fontFamily: FONT, fontStyle: italic ? "italic" : "normal", fill: INK, textVerticalAlign: "bottom" },
    });
    const pointStyle = { color: BLUE, opacity: 0.8, borderColor: "#ffffff", borderWidth: 1.6 };
    const scatter = (name: string, flat: number[]) => ({
      type: "scatter",
      name,
      xAxisIndex: 0,
      yAxisIndex: 0,
      z: 3,
      symbolSize: 18.5,
      itemStyle: pointStyle,
      data: pairs(flat),
    });
    chart.setOption({
      animation: false,
      backgroundColor: "#ffffff",
      grid: [
        { left: 391, top: 761, width: 1860, height: 1896, show: true, backgroundColor: PANEL, borderWidth: 0 },
        { left: 386, top: 90, width: 1865, height: 555, show: true, backgroundColor: PANEL, borderWidth: 0 },
        { left: 2366, top: 761, width: 544, height: 1899, show: true, backgroundColor: PANEL, borderWidth: 0 },
      ],
      xAxis: [
        {
          gridIndex: 0, type: "value", min: -7.793, max: 6.171,
          axisLine: { show: false },
          axisTick: { show: false, customValues: xTicks },
          splitLine: gridLine,
          axisLabel: { customValues: xTicks, margin: 45, formatter: powerLabel, rich: richLabel },
        },
        {
          gridIndex: 1, type: "value", min: -7.83, max: 6.171,
          axisLine: { show: false },
          axisTick: { show: false, customValues: xTicks },
          splitLine: gridLine,
          axisLabel: { show: false },
        },
        {
          gridIndex: 2, type: "value", min: 0, max: 1470,
          axisLine: { show: false }, axisTick: { show: false },
          splitLine: { show: false }, axisLabel: { show: false },
        },
      ],
      yAxis: [
        {
          gridIndex: 0, type: "value", min: -1.9446, max: 0.1574,
          axisLine: { show: false },
          axisTick: { show: false, customValues: yTicks },
          splitLine: gridLine,
          axisLabel: { customValues: yTicks, margin: 72, formatter: powerLabel, rich: richLabel },
        },
        {
          gridIndex: 1, type: "value", min: 0, max: 1500,
          axisLine: { show: false }, axisTick: { show: false },
          splitLine: { show: false }, axisLabel: { show: false },
        },
        {
          gridIndex: 2, type: "value", min: -1.948, max: 0.1574,
          axisLine: { show: false },
          axisTick: { show: false, customValues: yTicks },
          splitLine: gridLine,
          axisLabel: { show: false },
        },
      ],
      series: [
        {
          type: "custom",
          name: "core",
          xAxisIndex: 0,
          yAxisIndex: 0,
          z: 2,
          silent: true,
          data: [[0, 0]],
          renderItem: (_p: any, api: any) => {
            const pts: number[][] = [];
            coreLeftG.forEach((g, i) => pts.push(api.coord([coreLeftV[i], g])));
            for (let i = coreRightG.length - 1; i >= 0; i--) pts.push(api.coord([coreRightV[i], coreRightG[i]]));
            return { type: "polygon", shape: { points: pts }, style: { fill: "#4f74b1" } };
          },
        },
        scatter("interior", coreInterior),
        scatter("interior2", coreInteriorSecond),
        scatter("edgeLeft", coreEdgeLeft),
        scatter("edgeRight", coreEdgeRight),
        scatter("leftUpper", wingsLeftUpper),
        scatter("leftLower", wingsLeftLower),
        scatter("tail", tailBottom),
        scatter("rightLower", wingsRightLower),
        scatter("rightUpper", wingsRightUpper),
        {
          type: "custom",
          name: "top histogram",
          xAxisIndex: 1,
          yAxisIndex: 1,
          z: 3,
          data: topCounts.map((c, i) => [topBinStart + i * topBinWidth, topBinStart + (i + 1) * topBinWidth, c]),
          encode: { x: [0, 1], y: 2 },
          renderItem: (_p: any, api: any) => {
            const a = api.coord([api.value(0), api.value(2)]);
            const b = api.coord([api.value(1), 0]);
            return barItem({ x: a[0], y: a[1], width: b[0] - a[0], height: b[1] - a[1] });
          },
        },
        {
          type: "custom",
          name: "right histogram",
          xAxisIndex: 2,
          yAxisIndex: 2,
          z: 3,
          data: rightCounts.map((c, i) => [rightBinTop - i * rightBinHeight, rightBinTop - (i + 1) * rightBinHeight, c]),
          encode: { x: 2, y: [0, 1] },
          renderItem: (_p: any, api: any) => {
            const a = api.coord([0, api.value(0)]);
            const b = api.coord([api.value(2), api.value(1)]);
            return barItem({ x: a[0], y: a[1], width: b[0] - a[0], height: b[1] - a[1] });
          },
        },
      ],
      graphic: [
        text("V", 1180, 2912, 82),
        text("0", 1237, 2925, 57, false),
        text("/M", 1276, 2912, 82),
        text("2", 1383, 2878, 57, false),
        text("3/2", 1378, 2944, 57, false),
        text("g", 112, 1752, 82, true, Math.PI / 2),
        text("s", 118, 1702, 57, true, Math.PI / 2),
      ],
    });
    return () => chart.dispose();
  }, []);
  return <div ref={ref} style={{ position: "absolute", left: 0, top: 0, width: 3000, height: 3000 }} />;
}
